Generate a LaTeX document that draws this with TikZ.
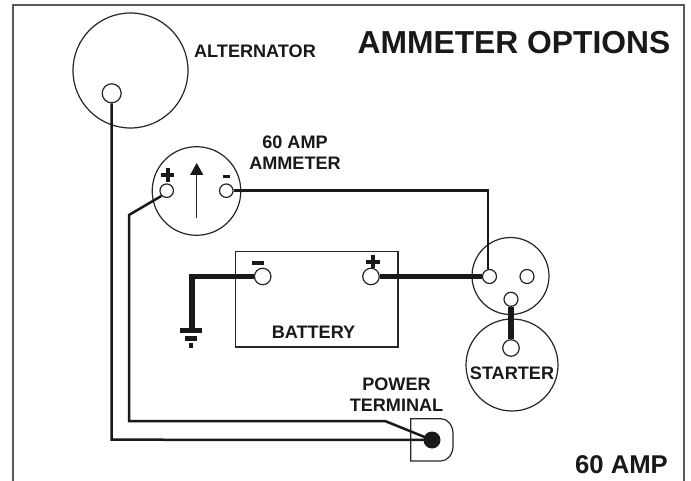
\documentclass[tikz,border=0pt]{standalone}
\usepackage{fontspec}
\setmainfont{Liberation Sans}
\tikzset{
  thin line/.style={line width=1.2pt,draw=black!85},
  frame line/.style={line width=1.8pt,draw=black!65},
  wire/.style={line width=2.5pt,draw=black!90,line join=miter},
  heavy/.style={line width=5.5pt,draw=black!90,line join=miter},
  term/.style={circle,draw=black!85,line width=1.2pt,fill=white,inner sep=0pt},
  lbl/.style={font=\bfseries\fontsize{18.1}{21.5}\selectfont,text=black!90,inner sep=0pt,align=center},
  blk/.style={fill=black!90,draw=none},
}
\begin{document}
\begin{tikzpicture}[x=1pt,y=-1pt]
\useasboundingbox (0,0) rectangle (691,481);
\fill[white] (0,0) rectangle (691,481);
% frame
\coordinate (fbl) at (13.3,481);
\coordinate (ftl) at (13.3,5.3);
\coordinate (ftr) at (684.3,5.3);
\coordinate (fbr) at (684.3,481);
\draw[frame line] (fbl) -- (ftl) -- (ftr) -- (fbr);
% large circles
\node[term,minimum size=115pt] (alt) at (130.5,70.5) {};
\node[term,minimum size=88.6pt] (amm) at (196.5,191) {};
\node[term,minimum size=77pt] (sol) at (510.5,276) {};
\node[term,minimum size=92pt] (sta) at (512,365) {};
% battery
\node[draw=black!85,line width=1.2pt,fill=white,minimum width=162.7pt,minimum height=95.7pt,inner sep=0pt] (bat) at (316.6,299.2) {};
% power terminal
\draw[thin line,fill=white] (410.7,461) -- (410.7,418.7) -- (441,418.7) arc[start angle=90,end angle=0,x radius=12pt,y radius=15pt] -- (453,446) arc[start angle=0,end angle=-90,x radius=12pt,y radius=15pt] -- cycle;
% terminals
\node[term,minimum size=19pt] (altT) at (111.7,93.3) {};
\node[term,minimum size=13.5pt] (ammP) at (166.7,190.7) {};
\node[term,minimum size=13.5pt] (ammN) at (226.3,190.7) {};
\node[term,minimum size=14pt] (solA) at (489.5,276.5) {};
\node[term,minimum size=14pt] (solB) at (527,276.5) {};
\node[term,minimum size=14pt] (solC) at (511,299.3) {};
\node[term,minimum size=16.5pt] (staT) at (511,348) {};
\node[term,minimum size=16.5pt] (batN) at (262.7,276.5) {};
\node[term,minimum size=16.5pt] (batP) at (371,276.5) {};
\node[circle,fill=black!90,minimum size=17pt,inner sep=0pt] (pwr) at (432,440) {};
% wires
\coordinate (w1) at (111.7,439.7);
\draw[wire] (altT.south) -- (w1) -- (pwr.center);
\coordinate (w2a) at (129,215);
\coordinate (w2b) at (129,421);
\coordinate (w2c) at (385,421);
\draw[wire] (ammP.south west) -- (w2a) -- (w2b) -- (w2c) -- (pwr.center);
\coordinate (w3) at (488,190.7);
\draw[wire] (ammN.east) -- (w3) -- (solA.north -| w3);
\draw[heavy] (batP.east) -- (solA.west);
\coordinate (g1) at (192,276.5);
\coordinate (g2) at (192,328.5);
\draw[heavy] (batN.west) -- (g1) -- (g2);
\draw[heavy] (solC.south) -- (staT.north);
% ground
\fill[blk] (180,328.3) rectangle (202,333.3);
\fill[blk] (185,336) rectangle (196.7,340.7);
\fill[blk] (189,343.3) rectangle (193,348.3);
% polarity marks
\fill[blk] (161,173.2) rectangle (174.4,176.8);
\fill[blk] (165.9,168.3) rectangle (169.5,181.7);
\fill[blk] (222.5,175) rectangle (229.5,178.4);
\fill[blk] (251.7,261.3) rectangle (263.7,265);
\fill[blk] (366,260.2) rectangle (380,263.8);
\fill[blk] (371.2,255.5) rectangle (374.8,268.5);
% gauge arrow
\coordinate (a1) at (196.7,218);
\coordinate (a2) at (196.7,172);
\draw[line width=1.2pt,draw=black!85] (a1) -- (a2);
\fill[blk] (196.7,163) -- (203.4,175) -- (190,175) -- cycle;
% labels
\node[lbl] (tAlt) at (255,51) {ALTERNATOR};
\node[font=\bfseries\fontsize{31.8}{36}\selectfont,text=black!90,inner sep=0pt] (tTitle) at (514,43) {AMMETER OPTIONS};
\node[lbl] (tAmm) at (295,152.5) {60 AMP\\AMMETER};
\node[lbl] (tBat) at (313.5,332.5) {BATTERY};
\node[lbl] (tSta) at (512,373) {STARTER};
\node[lbl] (tPwr) at (396.5,394.5) {POWER\\TERMINAL};
\node[font=\bfseries\fontsize{25.7}{30}\selectfont,text=black!90,inner sep=0pt] (t60) at (621.5,465) {60 AMP};
\end{tikzpicture}
\end{document}
